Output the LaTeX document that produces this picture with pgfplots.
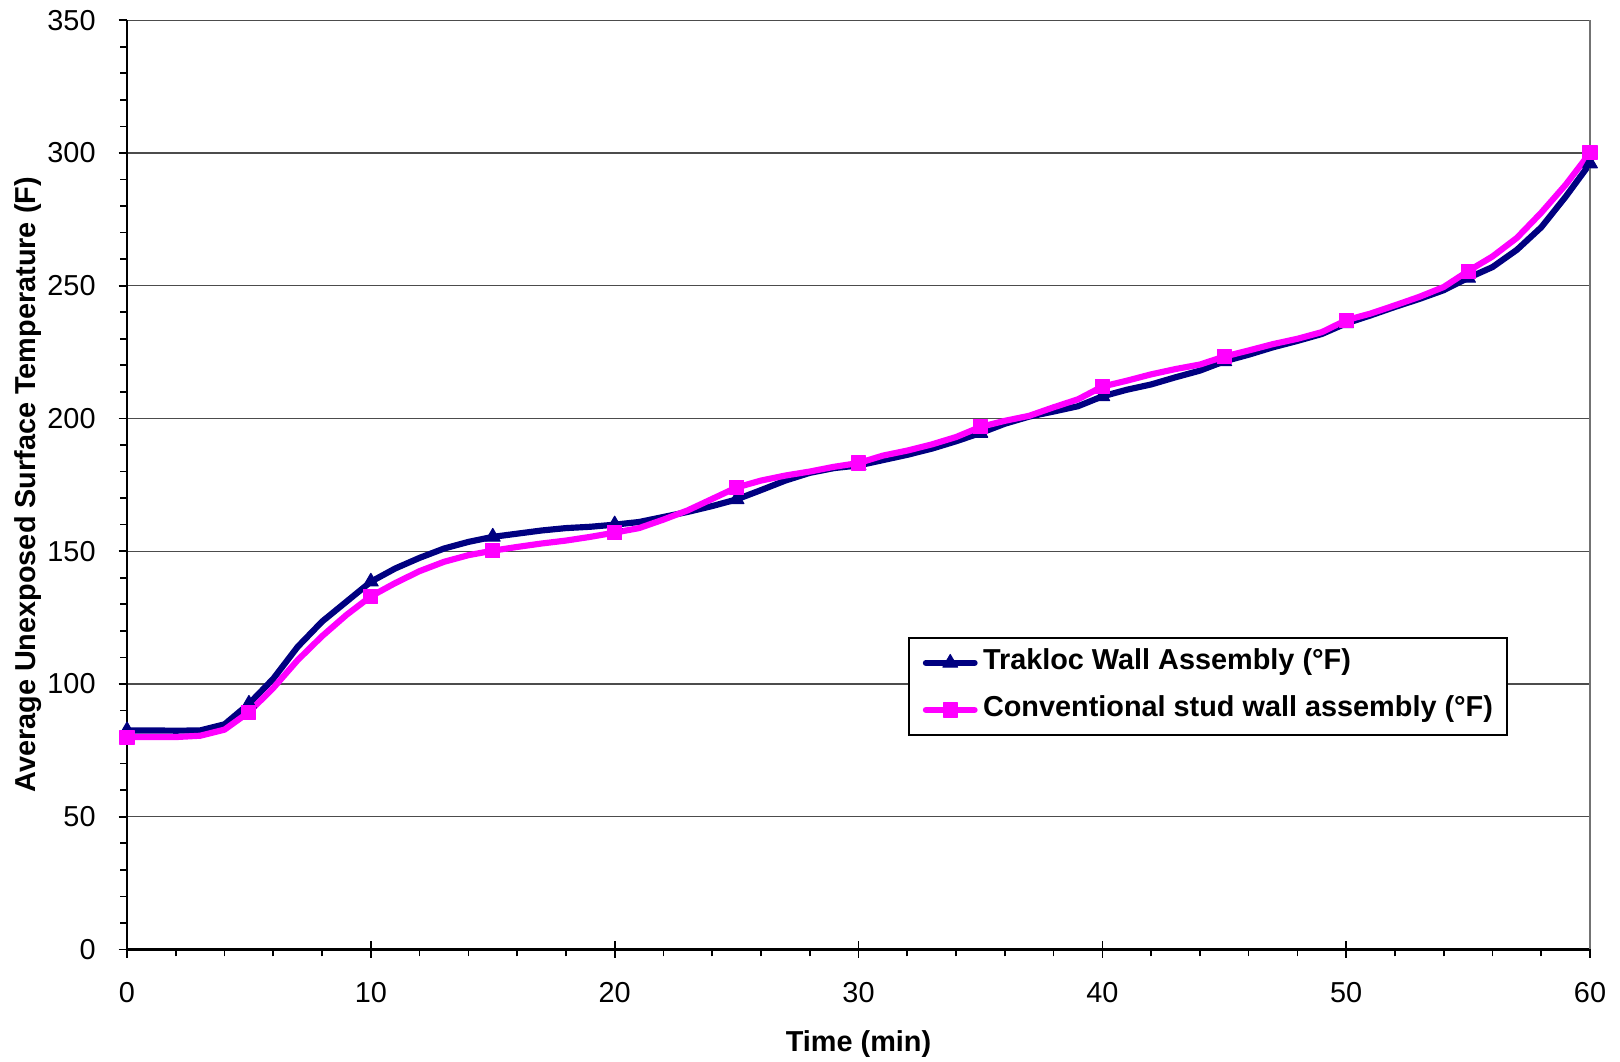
\documentclass[border=0pt]{standalone}
\usepackage{fontspec}
\setmainfont{Liberation Sans}
\usepackage{pgfplots}
\usepackage{pgfplotstable}
\pgfplotsset{compat=1.18}
\definecolor{navyline}{HTML}{000080}
\definecolor{magline}{HTML}{FF00FF}

\pgfplotstableread{
t T
0 82.5
1 82.5
2 82.4
3 82.5
4 84.8
5 92.5
6 102
7 114
8 123.5
9 131
10 138.5
11 143.5
12 147.5
13 151
14 153.5
15 155.4
16 156.6
17 157.8
18 158.7
19 159.2
20 160
21 161
22 162.9
23 164.8
24 167
25 169.5
26 173
27 176.6
28 179.5
29 181.3
30 182.3
31 184.3
32 186.3
33 188.6
34 191.4
35 194.5
36 198
37 200.7
38 202.6
39 204.6
40 208.3
41 210.8
42 212.8
43 215.5
44 218
45 221.5
46 224
47 226.8
48 229.2
49 231.8
50 235.8
51 238.8
52 242
53 245
54 248.3
55 252.9
56 257
57 263.5
58 272
59 283.5
60 296
}\trakloc

\pgfplotstableread{
t C
0 80
1 80
2 80
3 80.5
4 82.8
5 89.4
6 98.5
7 109
8 118
9 126
10 133
11 138
12 142.5
13 146
14 148.5
15 150.2
16 151.6
17 152.9
18 154
19 155.4
20 157
21 158.7
22 161.9
23 165.4
24 169.7
25 174
26 176.6
27 178.5
28 180
29 181.8
30 183.2
31 186
32 187.9
33 190.2
34 193
35 196.8
36 199.1
37 201
38 204.2
39 207.2
40 212
41 214.2
42 216.6
43 218.6
44 220.3
45 223.3
46 225.6
47 228
48 230
49 232.5
50 237
51 239.5
52 242.6
53 245.8
54 249.5
55 255.5
56 261
57 268
58 277.5
59 288
60 300
}\conventional

\begin{document}
\fontsize{10.3}{12.4}\selectfont
\begin{tikzpicture}
\begin{axis}[
  name=ax, at={(0,0)}, anchor=south west,
  width=522.5pt, height=331.9pt, scale only axis,
  xmin=0, xmax=60, ymin=0, ymax=350,
  xtick={0,10,...,60}, ytick={0,50,...,350},
  minor x tick num=4, minor y tick num=4,
  axis x line=bottom, axis y line=left,
  axis line style={-, black, line width=0.9pt},
  ymajorgrids, major grid style={black!70, line width=0.45pt},
  tick align=outside, major tick length=3pt, minor tick length=2.5pt,
  tick style={black, line width=0.6pt},
  extra x ticks={10,20,30,40,50,60}, extra x tick labels={},
  extra x tick style={tick align=inside, grid=none},
  /pgf/number format/assume math mode=true,
  xticklabel shift=5pt, yticklabel shift=4.6pt,
  xlabel={\bfseries Time (min)},
  ylabel={\bfseries Average Unexposed Surface Temperature (F)},
  xlabel style={at={(axis description cs:0.5,-0.0765)}, anchor=north},
  ylabel style={at={(axis description cs:-0.0512,0.5)}, anchor=south},
  clip=false,
  legend style={at={(axis description cs:0.5338,0.3362)}, anchor=north west,
    draw=black, line width=0.6pt, fill=white, font=\bfseries,
    inner xsep=5pt, inner ysep=4.1pt, row sep=7.1pt,
    nodes={inner sep=0pt, text height=7.3pt, text depth=2.4pt},
    /tikz/every odd column/.append style={column sep=1.9pt}},
  legend cell align=left,
  legend image code/.code={\draw[#1, mark repeat=2, mark phase=2, line cap=round] plot coordinates {(0pt,0pt) (8.7pt,0pt) (17.4pt,0pt)};},
]
\addplot[color=navyline, line width=2.2pt, line join=round, mark=triangle*, mark repeat=5, mark size=3pt, mark options={solid, line width=0.4pt}] table[x=t, y=T] {\trakloc};
\addlegendentry{Trakloc Wall Assembly (°F)}
\addplot[color=magline, line width=2.2pt, line join=round, mark=square*, mark repeat=5, mark size=2.5pt, mark options={solid, line width=0.4pt}] table[x=t, y=C] {\conventional};
\addlegendentry{Conventional stud wall assembly (°F)}
\draw[black!55, line width=0.5pt] (rel axis cs:1,0) -- (rel axis cs:1,1);
\end{axis}
\pgfresetboundingbox
\path[use as bounding box] (-45.36pt,-40.18pt) rectangle (533.2pt,339.1pt);
\end{tikzpicture}
\end{document}
